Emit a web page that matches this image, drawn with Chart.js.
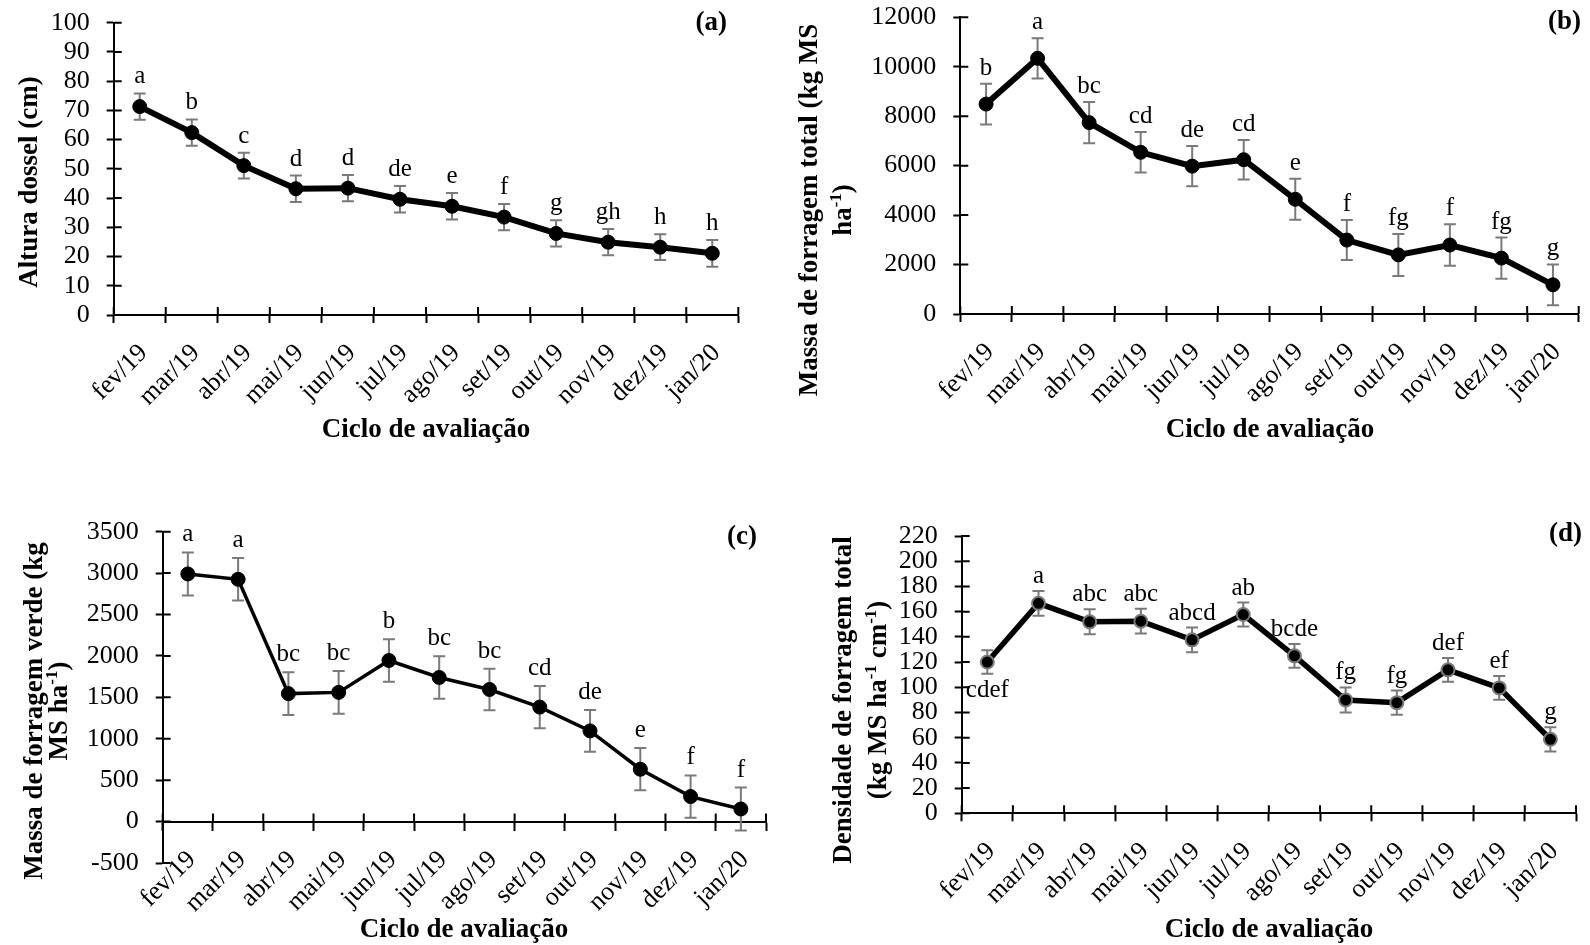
<!DOCTYPE html>
<html>
<head>
<meta charset="utf-8">
<script src="https://cdn.jsdelivr.net/npm/chart.js@4.4.1/dist/chart.umd.min.js"></script>
<style>
    html, body { margin: 0; padding: 0; background: #fff; }
    #page { position: relative; width: 1590px; height: 945px; overflow: hidden; }
    .panel { position: absolute; }
    .panel canvas { display: block; }
</style>
</head>
<body>
<div id="page">
    <div class="panel" style="left:0;top:0"><canvas id="chartA" width="780" height="470"></canvas></div>
    <div class="panel" style="left:780px;top:0"><canvas id="chartB" width="810" height="470"></canvas></div>
    <div class="panel" style="left:0;top:470px"><canvas id="chartC" width="780" height="475"></canvas></div>
    <div class="panel" style="left:780px;top:470px"><canvas id="chartD" width="810" height="475"></canvas></div>
</div>
<script>
// Evaluation cycles (x axis)
const months = ['fev/19', 'mar/19', 'abr/19', 'mai/19', 'jun/19', 'jul/19', 'ago/19', 'set/19', 'out/19', 'nov/19', 'dez/19', 'jan/20'];

// (a) canopy height, cm
const alturaDossel = [71.3, 62.4, 51.1, 43.2, 43.4, 39.6, 37.2, 33.5, 27.9, 24.9, 23.2, 21.1];
const alturaErro = [4.5, 4.5, 4.4, 4.5, 4.5, 4.5, 4.5, 4.5, 4.5, 4.5, 4.4, 4.6];
const alturaLetras = ['a', 'b', 'c', 'd', 'd', 'de', 'e', 'f', 'g', 'gh', 'h', 'h'];
const alturaTicks = { min: 0, max: 100, step: 10 };

// (b) total forage mass, kg MS/ha
const massaTotal = [8490, 10340, 7740, 6540, 5980, 6240, 4640, 2990, 2390, 2790, 2260, 1180];
const massaTotalErro = [825, 815, 830, 820, 810, 800, 830, 810, 850, 835, 830, 825];
const massaTotalLetras = ['b', 'a', 'bc', 'cd', 'de', 'cd', 'e', 'f', 'fg', 'f', 'fg', 'g'];
const massaTotalTicks = { min: 0, max: 12000, step: 2000 };

// (c) green forage mass, kg MS/ha
const massaVerde = [2990, 2925, 1545, 1560, 1945, 1740, 1595, 1382, 1095, 632, 302, 152];
const massaVerdeErro = [260, 257, 257, 257, 257, 257, 250, 255, 253, 255, 255, 259];
const massaVerdeLetras = ['a', 'a', 'bc', 'bc', 'b', 'bc', 'bc', 'cd', 'de', 'e', 'f', 'f'];
const massaVerdeTicks = { min: -500, max: 3500, step: 500 };

// (d) total forage density, kg MS/ha/cm
const densidade = [120.0, 166.6, 151.9, 152.4, 137.6, 157.7, 124.9, 89.9, 87.8, 113.8, 99.5, 58.7];
const densidadeErro = [9.3, 9.8, 9.9, 9.8, 9.8, 9.5, 9.5, 10.0, 9.6, 9.5, 9.5, 9.6];
const densidadeLetras = ['cdef', 'a', 'abc', 'abc', 'abcd', 'ab', 'bcde', 'fg', 'fg', 'def', 'ef', 'g'];
const densidadeTicks = { min: 0, max: 220, step: 20 };

const FONT = "'Liberation Serif', 'Times New Roman', serif";
Chart.defaults.font.family = FONT;
Chart.defaults.color = '#000';

// Error bars, inner tick marks and significance letters
const errorBarsPlugin = {
    id: 'errorBars',
    beforeDatasetsDraw(chart, args, opts) {
        const { ctx, chartArea } = chart;
        const xs = chart.scales.x;
        const ys = chart.scales.y;
        const ds = chart.data.datasets[0];
        const meta = chart.getDatasetMeta(0);

        // tick marks crossing into the plot area
        ctx.save();
        ctx.strokeStyle = '#000';
        ctx.lineWidth = 2;
        ctx.beginPath();
        ys.ticks.forEach(t => {
            const py = ys.getPixelForValue(t.value);
            ctx.moveTo(chartArea.left, py);
            ctx.lineTo(chartArea.left + 8, py);
        });
        const axisY = ys.getPixelForValue(0);
        const x0 = xs.getPixelForValue(0);
        const step = xs.getPixelForValue(1) - x0;
        for (let k = 0; k <= months.length; k++) {
            const bx = x0 - step / 2 + k * step;
            ctx.moveTo(bx, axisY);
            ctx.lineTo(bx, axisY - 8);
        }
        ctx.stroke();
        ctx.restore();

        // error bars
        ctx.save();
        ctx.strokeStyle = '#7a7a7a';
        ctx.lineWidth = 2;
        meta.data.forEach((pt, i) => {
            const top = ys.getPixelForValue(ds.data[i] + ds.errors[i]);
            const bot = ys.getPixelForValue(ds.data[i] - ds.errors[i]);
            ctx.beginPath();
            ctx.moveTo(pt.x, top);
            ctx.lineTo(pt.x, bot);
            ctx.moveTo(pt.x - 6, top);
            ctx.lineTo(pt.x + 6, top);
            ctx.moveTo(pt.x - 6, bot);
            ctx.lineTo(pt.x + 6, bot);
            ctx.stroke();
        });
        ctx.restore();
    },
    afterDatasetsDraw(chart, args, opts) {
        const { ctx } = chart;
        const ys = chart.scales.y;
        const ds = chart.data.datasets[0];
        const meta = chart.getDatasetMeta(0);
        const below = opts.below || [];
        ctx.save();
        ctx.fillStyle = '#000';
        ctx.font = `25px ${FONT}`;
        ctx.textAlign = 'center';
        ctx.textBaseline = 'alphabetic';
        meta.data.forEach((pt, i) => {
            if (below.includes(i)) {
                const bot = ys.getPixelForValue(ds.data[i] - ds.errors[i]);
                ctx.fillText(ds.letters[i], pt.x, bot + 23);
            } else {
                const top = ys.getPixelForValue(ds.data[i] + ds.errors[i]);
                ctx.fillText(ds.letters[i], pt.x, top - opts.gap);
            }
        });
        ctx.restore();
    }
};

// Draws a line of text made of normal and superscript parts, centred on x
function drawRich(ctx, parts, x, y, size) {
    const normal = `bold ${size}px ${FONT}`;
    const small = `bold ${Math.round(size * 0.62)}px ${FONT}`;
    let total = 0;
    parts.forEach(([t, sup]) => {
        ctx.font = sup ? small : normal;
        total += ctx.measureText(t).width;
    });
    let cx = x - total / 2;
    parts.forEach(([t, sup]) => {
        ctx.font = sup ? small : normal;
        ctx.fillText(t, cx, sup ? y - size * 0.36 : y);
        cx += ctx.measureText(t).width;
    });
}

// Axis titles and panel tag
const panelTextPlugin = {
    id: 'panelText',
    afterDraw(chart, args, opts) {
        const { ctx } = chart;
        ctx.save();
        ctx.fillStyle = '#000';
        ctx.textAlign = 'left';
        ctx.textBaseline = 'alphabetic';

        // y title, rotated
        opts.yTitle.forEach((line, i) => {
            ctx.save();
            ctx.translate(opts.yBase[i], opts.yCenter);
            ctx.rotate(-Math.PI / 2);
            drawRich(ctx, line, 0, 0, 27);
            ctx.restore();
        });

        // x title
        drawRich(ctx, [[opts.xTitle]], opts.xTitleX, opts.xTitleY, 27);

        // panel tag
        ctx.font = `bold 27px ${FONT}`;
        ctx.textAlign = 'right';
        ctx.textBaseline = 'middle';
        ctx.fillText(opts.tag, opts.tagX, opts.tagY);
        ctx.restore();
    }
};

function buildChart(id, p) {
    return new Chart(document.getElementById(id), {
        type: 'line',
        data: {
            labels: months,
            datasets: [{
                data: p.values,
                errors: p.errors,
                letters: p.letters,
                borderColor: '#000',
                borderWidth: p.lineWidth,
                pointRadius: p.pointRadius,
                pointBackgroundColor: '#000',
                pointBorderColor: p.pointBorderColor,
                pointBorderWidth: p.pointBorderWidth,
                fill: false,
                tension: 0,
                clip: false
            }]
        },
        options: {
            responsive: false,
            animation: false,
            events: [],
            layout: { padding: p.padding },
            plugins: {
                legend: { display: false },
                tooltip: { enabled: false },
                errorBars: { gap: p.gap, below: p.below },
                panelText: p.text
            },
            scales: {
                x: {
                    type: 'category',
                    position: p.xPosition,
                    offset: true,
                    grid: {
                        offset: true,
                        drawOnChartArea: false,
                        drawTicks: true,
                        tickLength: 8,
                        tickWidth: 2,
                        tickColor: '#000'
                    },
                    border: { display: true, color: '#000', width: 2 },
                    ticks: {
                        autoSkip: false,
                        minRotation: 45,
                        maxRotation: 45,
                        padding: 15,
                        labelOffset: 4,
                        color: '#000',
                        font: { family: FONT, size: 26 }
                    },
                    afterFit: s => {
                        s.height = p.xHeight;
                        s.paddingLeft = 0;
                        s.paddingRight = 0;
                    }
                },
                y: {
                    min: p.ticks.min,
                    max: p.ticks.max,
                    grid: {
                        drawOnChartArea: false,
                        drawTicks: true,
                        tickLength: 7,
                        tickWidth: 2,
                        tickColor: '#000'
                    },
                    border: { display: true, color: '#000', width: 2 },
                    ticks: {
                        stepSize: p.ticks.step,
                        autoSkip: false,
                        padding: 17,
                        color: '#000',
                        font: { family: FONT, size: 26 },
                        callback: v => String(v)
                    },
                    afterFit: s => {
                        s.width = p.yWidth;
                        s.paddingTop = 0;
                        s.paddingBottom = 0;
                    }
                }
            }
        },
        plugins: [errorBarsPlugin, panelTextPlugin]
    });
}

buildChart('chartA', {
    values: alturaDossel, errors: alturaErro, letters: alturaLetras, ticks: alturaTicks,
    lineWidth: 6, pointRadius: 7, pointBorderColor: '#000', pointBorderWidth: 1,
    padding: { left: 0, top: 22.7, right: 41.7, bottom: 0 },
    yWidth: 113.7, xHeight: 155, xPosition: 'bottom', gap: 10, below: [],
    text: {
        yTitle: [[['Altura dossel (cm)']]], yBase: [36.5], yCenter: 182,
        xTitle: 'Ciclo de avaliação', xTitleX: 426, xTitleY: 437,
        tag: '(a)', tagX: 727, tagY: 23
    }
});

buildChart('chartB', {
    values: massaTotal, errors: massaTotalErro, letters: massaTotalLetras, ticks: massaTotalTicks,
    lineWidth: 6, pointRadius: 7, pointBorderColor: '#000', pointBorderWidth: 1,
    padding: { left: 0, top: 17.3, right: 11.3, bottom: 0 },
    yWidth: 180.3, xHeight: 156, xPosition: 'bottom', gap: 9, below: [],
    text: {
        yTitle: [[['Massa de forragem total (kg MS']], [['ha'], ['-1', true], [')']]],
        yBase: [37, 70.5], yCenter: 210,
        xTitle: 'Ciclo de avaliação', xTitleX: 490, xTitleY: 437,
        tag: '(b)', tagX: 801, tagY: 22
    }
});

buildChart('chartC', {
    values: massaVerde, errors: massaVerdeErro, letters: massaVerdeLetras, ticks: massaVerdeTicks,
    lineWidth: 3.5, pointRadius: 7, pointBorderColor: '#000', pointBorderWidth: 1,
    padding: { left: 0, top: 61.7, right: 14, bottom: 82 },
    yWidth: 162.7, xHeight: 0, xPosition: { y: 0 }, gap: 11, below: [],
    text: {
        yTitle: [[['Massa de forragem verde (kg']], [['MS ha'], ['-1', true], [')']]],
        yBase: [41.5, 67], yCenter: 241,
        xTitle: 'Ciclo de avaliação', xTitleX: 464, xTitleY: 467,
        tag: '(c)', tagX: 757, tagY: 67
    }
});

buildChart('chartD', {
    values: densidade, errors: densidadeErro, letters: densidadeLetras, ticks: densidadeTicks,
    lineWidth: 5.5, pointRadius: 6.5, pointBorderColor: '#7a7a7a', pointBorderWidth: 2,
    padding: { left: 0, top: 66, right: 14, bottom: 0 },
    yWidth: 181.7, xHeight: 131.7, xPosition: 'bottom', gap: 8, below: [0],
    text: {
        yTitle: [[['Densidade de forragem total']], [['(kg MS ha'], ['-1', true], [' cm'], ['-1', true], [')']]],
        yBase: [70.5, 106], yCenter: 230,
        xTitle: 'Ciclo de avaliação', xTitleX: 489, xTitleY: 467,
        tag: '(d)', tagX: 802, tagY: 64
    }
});
</script>
</body>
</html>
